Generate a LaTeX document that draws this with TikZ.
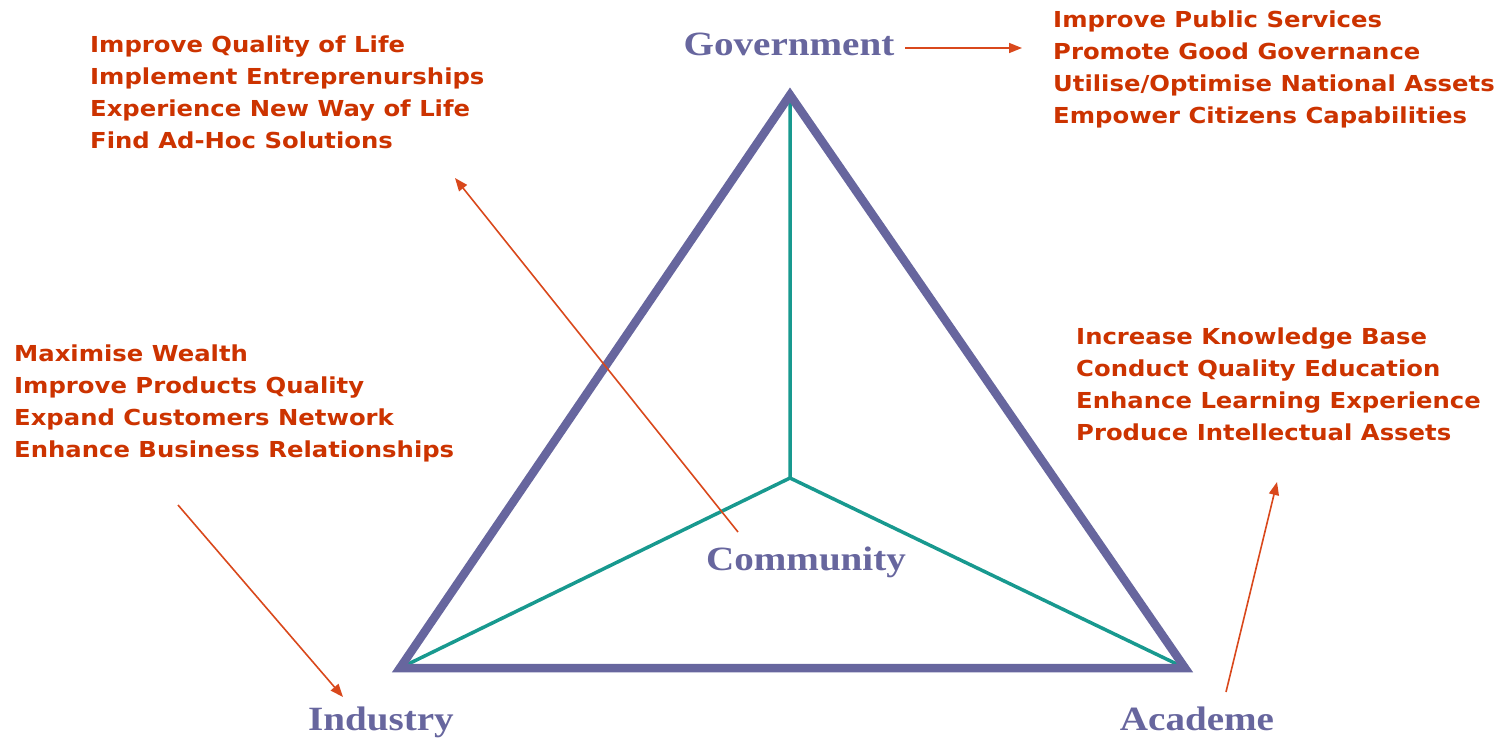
\documentclass[tikz,border=0pt]{standalone}
\usepackage{fontspec}
\setmainfont{DejaVu Sans}
\newfontfamily\goalfont{DejaVu Sans}[FakeStretch=1.105]
\newfontfamily\labfont{Liberation Serif}[FakeStretch=1.15]
\usetikzlibrary{arrows.meta}
\definecolor{slate}{HTML}{67669E}
\definecolor{tealc}{HTML}{18998F}
\definecolor{redt}{HTML}{CC3300}
\definecolor{reda}{HTML}{D9481C}
\tikzset{
  goal/.style={anchor=base west, inner sep=0pt, text=redt, font=\goalfont\bfseries\fontsize{22}{32}\selectfont},
  lab/.style={anchor=base, inner sep=0pt, text=slate, font=\labfont\bfseries\fontsize{34}{38}\selectfont},
  tri/.style={draw=slate, line width=8.5pt, line join=miter},
  spoke/.style={draw=tealc, line width=3.5pt},
  ptr/.style={draw=reda, line width=1.6pt, -{Triangle[length=13pt,width=10pt]}}
}
\begin{document}
\begin{tikzpicture}[x=1pt,y=-1pt]
\useasboundingbox (0,0) rectangle (1497,739);
\coordinate (G) at (790,95);
\coordinate (I) at (400,668);
\coordinate (A) at (1185,668);
\coordinate (C) at (790,478);
\draw[spoke] (G) -- (C) -- (I);
\draw[spoke] (C) -- (A);
\draw[tri] (G) -- (I) -- (A) -- cycle;

\node[lab] (gov) at (789,55) {Government};
\node[lab] (ind) at (381,730) {Industry};
\node[lab] (aca) at (1197,730) {Academe};
\node[lab] (com) at (806,570) {Community};

% top-left
\node[goal] (c1) at (90,52) {Improve Quality of Life};
\node[goal] (c2) at (90,84) {Implement Entreprenurships};
\node[goal] (c3) at (90,116) {Experience New Way of Life};
\node[goal] (c4) at (90,148) {Find Ad-Hoc Solutions};
% top-right
\node[goal] (g1) at (1053,27) {Improve Public Services};
\node[goal] (g2) at (1053,59) {Promote Good Governance};
\node[goal] (g3) at (1053,91) {Utilise/Optimise National Assets};
\node[goal] (g4) at (1053,123) {Empower Citizens Capabilities};
% left
\node[goal] (i1) at (14,361) {Maximise Wealth};
\node[goal] (i2) at (14,393) {Improve Products Quality};
\node[goal] (i3) at (14,425) {Expand Customers Network};
\node[goal] (i4) at (14,457) {Enhance Business Relationships};
% right
\node[goal] (a1) at (1076,344) {Increase Knowledge Base};
\node[goal] (a2) at (1076,376) {Conduct Quality Education};
\node[goal] (a3) at (1076,408) {Enhance Learning Experience};
\node[goal] (a4) at (1076,440) {Produce Intellectual Assets};

\coordinate (p1s) at (905,48);
\coordinate (p1e) at (1022,48);
\coordinate (p2s) at (738,532);
\coordinate (p2e) at (455,178);
\coordinate (p3s) at (178,505);
\coordinate (p3e) at (343,697);
\coordinate (p4s) at (1226,692);
\coordinate (p4e) at (1277,482);
\draw[ptr] (p1s) -- (p1e);
\draw[ptr] (p2s) -- (p2e);
\draw[ptr] (p3s) -- (p3e);
\draw[ptr] (p4s) -- (p4e);
\end{tikzpicture}
\end{document}
